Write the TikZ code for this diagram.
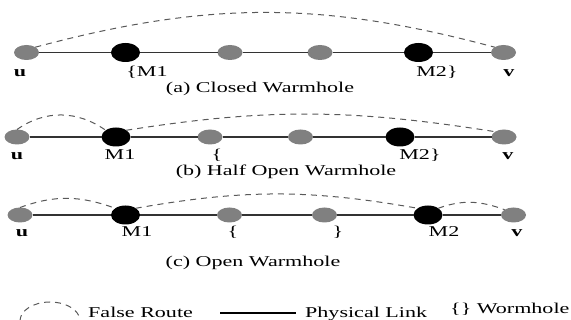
\documentclass[tikz,border=0pt]{standalone}
\usepackage{fontspec}
\setmainfont{Liberation Serif}
\usetikzlibrary{shapes.geometric}
\newcommand{\widetxt}[1]{\scalebox{1.47}[1]{#1}}
\begin{document}
\begin{tikzpicture}[x=1pt,y=-1pt,
  gnode/.style={ellipse, fill=gray, minimum width=25pt, minimum height=15pt, inner sep=0pt, outer sep=0pt},
  bnode/.style={ellipse, fill=black, minimum width=29pt, minimum height=19pt, inner sep=0pt, outer sep=0pt},
  lbl/.style={font=\fontsize{15}{17}\selectfont, inner sep=0pt, anchor=base},
  blbl/.style={font=\fontsize{15}{17}\selectfont\bfseries, inner sep=0pt, anchor=base},
  link/.style={draw=black!80, line width=1.3pt},
  froute/.style={draw=black!65, line width=1pt, dash pattern=on 6pt off 5pt}]
\useasboundingbox (0,0) rectangle (571,320);

% ---- (a) Closed Warmhole
\node[gnode] (ua)  at (26.5,52.5) {};
\node[bnode] (m1a) at (125.5,52.5) {};
\node[gnode] (a3)  at (230,52.5) {};
\node[gnode] (a4)  at (320,52.5) {};
\node[bnode] (m2a) at (418.5,52.5) {};
\node[gnode] (va)  at (503.5,52.5) {};
\draw[link] (ua) -- (m1a) -- (a3) -- (a4) -- (m2a) -- (va);
\draw[froute] (ua.north east) to[out=15,in=165] (va.north west);
\node[blbl] (lua)  at (20,77) {\widetxt{u}};
\node[lbl]  (lm1a) at (147,77) {\widetxt{\{M1}};
\node[lbl]  (lm2a) at (437,77) {\widetxt{M2\}}};
\node[blbl] (lva)  at (509,77) {\widetxt{v}};
\node[lbl]  (capa) at (260,93) {\widetxt{(a) Closed Warmhole}};

% ---- (b) Half Open Warmhole
\node[gnode] (ub)  at (17,137) {};
\node[bnode] (m1b) at (116,137) {};
\node[gnode] (b3)  at (210,137) {};
\node[gnode] (b4)  at (300.5,137) {};
\node[bnode] (m2b) at (400,137) {};
\node[gnode] (vb)  at (504,137) {};
\draw[link] (ub) -- (m1b) -- (b3) -- (b4) -- (m2b) -- (vb);
\draw[froute] (ub.north) to[out=35,in=145] (m1b.north west);
\draw[froute] (m1b.north east) to[out=9,in=171] (vb.north west);
\node[blbl] (lub)  at (17,160) {\widetxt{u}};
\node[lbl]  (lm1b) at (120,160) {\widetxt{M1}};
\node[lbl]  (lb3)  at (217,160) {\widetxt{\{}};
\node[lbl]  (lm2b) at (420,160) {\widetxt{M2\}}};
\node[blbl] (lvb)  at (508,160) {\widetxt{v}};
\node[lbl]  (capb) at (286,176) {\widetxt{(b) Half Open Warmhole}};

% ---- (c) Open Warmhole
\node[gnode] (uc)  at (20,215) {};
\node[bnode] (m1c) at (125.5,215) {};
\node[gnode] (c3)  at (229.5,215) {};
\node[gnode] (c4)  at (324.5,215) {};
\node[bnode] (m2c) at (428,215) {};
\node[gnode] (vc)  at (513.5,215) {};
\draw[link] (uc) -- (m1c) -- (c3) -- (c4) -- (m2c) -- (vc);
\draw[froute] (uc.north) to[out=20,in=160] (m1c.north west);
\draw[froute] (m1c.north east) to[out=10,in=170] (m2c.north west);
\draw[froute] (m2c.north east) to[out=20,in=160] (vc.north west);
\node[blbl] (luc)  at (22,237) {\widetxt{u}};
\node[lbl]  (lm1c) at (137,237) {\widetxt{M1}};
\node[lbl]  (lc3)  at (233,237) {\widetxt{\{}};
\node[lbl]  (lc4)  at (338,237) {\widetxt{\}}};
\node[lbl]  (lm2c) at (444,237) {\widetxt{M2}};
\node[blbl] (lvc)  at (517,237) {\widetxt{v}};
\node[lbl]  (capc) at (253,267) {\widetxt{(c) Open Warmhole}};

% ---- legend
\draw[froute] (50,321) ++(180:30pt and 19pt) arc[start angle=180, end angle=345, x radius=30, y radius=19];
\node[lbl, anchor=base west] (fr) at (88,318) {\widetxt{False Route}};
\coordinate (l1) at (220,313);
\coordinate (l2) at (296,313);
\draw[draw=black, line width=1.2pt] (l1) -- (l2);
\node[lbl, anchor=base west] (pl) at (305,318) {\widetxt{Physical Link}};
\node[lbl, anchor=base west] (wh) at (450,314) {\widetxt{\{\} Wormhole}};
\end{tikzpicture}
\end{document}
